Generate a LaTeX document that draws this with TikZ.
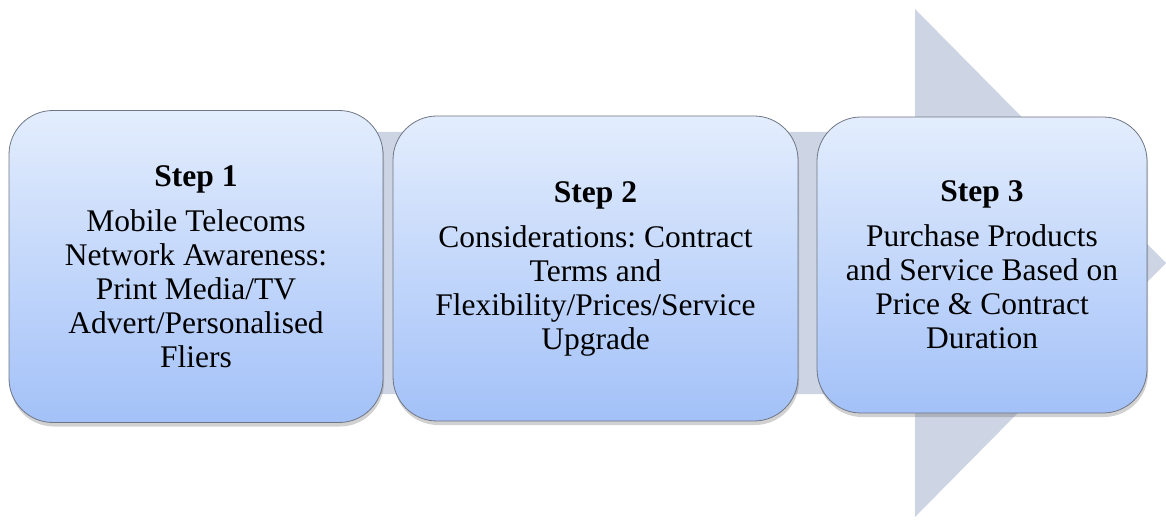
\documentclass[tikz,border=0pt]{standalone}
\usepackage{fontspec}
\setmainfont{Liberation Serif}
\usetikzlibrary{shadows}
\frenchspacing
\definecolor{arrowgray}{HTML}{CDD4E4}
\definecolor{boxtop}{HTML}{E3EDFD}
\definecolor{boxbottom}{HTML}{A3C1F8}
\definecolor{boxline}{HTML}{6E7684}
\tikzset{
  stepbox/.style={draw=boxline, line width=0.8pt, rounded corners=44pt,
    top color=boxtop, bottom color=boxbottom, align=center,
    font=\fontsize{31.5}{34}\selectfont, inner sep=0pt,
    drop shadow={shadow xshift=1pt, shadow yshift=-4pt, opacity=0.3, fill=black!60}},
  steptitle/.style={font=\bfseries}
}
\begin{document}
\begin{tikzpicture}[x=1pt, y=1pt]
			%%%%% START %%%%%
			\useasboundingbox (0, 0) rectangle (1166, -526);
			
			% big arrow behind the steps
			\fill[arrowgray] (20, -132) -- (915, -132) -- (915, -9) -- (1166, -263)
			  -- (915, -517) -- (915, -394) -- (20, -394) -- cycle;
			
			\node[stepbox, minimum width=374pt, minimum height=312pt] (step1) at (196, -266.5)
			  {\textbf{Step 1}\\[11pt] Mobile Telecoms\\ Network Awareness:\\ Print Media/TV\\ Advert/Personalised\\ Fliers};
			
			\node[stepbox, minimum width=405pt, minimum height=305pt] (step2) at (595.5, -268.5)
			  {\textbf{Step 2}\\[11pt] Considerations: Contract\\ Terms and\\ Flexibility/Prices/Service\\ Upgrade};
			
			\node[stepbox, minimum width=330pt, minimum height=296pt] (step3) at (982, -265)
			  {\textbf{Step 3}\\[11pt] Purchase Products\\ and Service Based on\\ Price \& Contract\\ Duration};
			
			%%%%% END %%%%%
\end{tikzpicture}
\end{document}
